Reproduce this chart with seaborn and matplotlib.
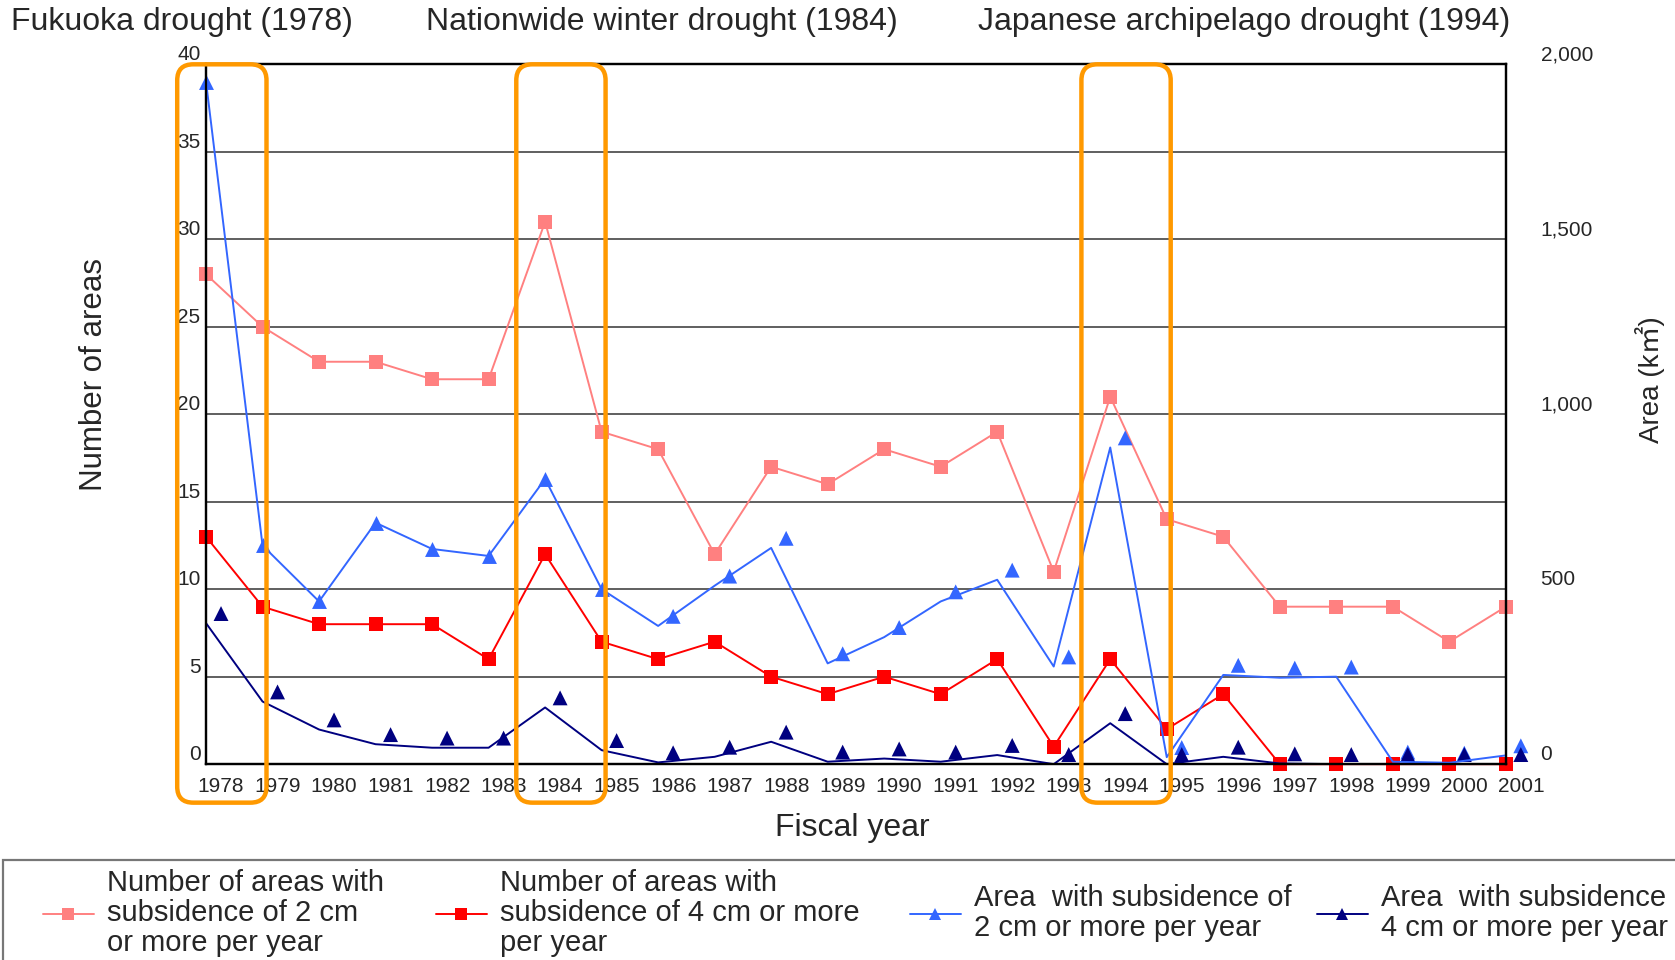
import matplotlib
matplotlib.use("Agg")
import matplotlib.pyplot as plt
from matplotlib import transforms
from matplotlib.lines import Line2D
from matplotlib.patches import FancyBboxPatch, Rectangle
import pandas as pd
import seaborn as sns

# fiscal years and the four series
years = list(range(1978, 2002))
count_2cm = [28, 25, 23, 23, 22, 22, 31, 19, 18, 12, 17, 16, 18, 17, 19, 11, 21, 14, 13, 9, 9, 9, 7, 9]
count_4cm = [13, 9, 8, 8, 8, 6, 12, 7, 6, 7, 5, 4, 5, 4, 6, 1, 6, 2, 4, 0, 0, 0, 0, 0]
area_2cm = [1950, 625, 465, 690, 615, 595, 815, 500, 395, 510, 618, 288, 363, 465, 527, 279, 905, 20, 255, 247, 250, 7, 4, 25]
area_4cm = [403, 179, 99, 57, 47, 47, 162, 40, 5, 21, 64, 7, 16, 7, 26, 0, 117, 0, 21, 2, 0, 0, 0, 0]
# from this year on the 2 cm area triangles sit off the line (as in the original)
blue_shift_from = 1986

drought_years = [1978, 1984, 1994]
drought_titles = ["Fukuoka drought (1978)", "Nationwide winter drought (1984)",
                  "Japanese archipelago drought (1994)"]

left_ticks = [0, 5, 10, 15, 20, 25, 30, 35, 40]
right_ticks = [0, 500, 1000, 1500, 2000]
right_labels = ["0", "500", "1,000", "1,500", "2,000"]

series_names = ["c2", "c4", "a2", "a4"]
legend_labels = [
    "Number of areas with\nsubsidence of 2 cm\nor more per year",
    "Number of areas with\nsubsidence of 4 cm or more\nper year",
    "Area  with subsidence of\n2 cm or more per year",
    "Area  with subsidence of\n4 cm or more per year",
]
pal = {"c2": "#FF8080", "c4": "#FF0000", "a2": "#3366FF", "a4": "#000080"}
orange = "#FF9900"

sns.set_theme(style="white")
plt.rcParams["font.family"] = ["Liberation Sans", "Noto Sans CJK JP"]

n = len(years)
counts = pd.DataFrame({"year": years * 2, "value": count_2cm + count_4cm,
                       "series": ["c2"] * n + ["c4"] * n})
areas = pd.DataFrame({"year": years * 2, "value": area_2cm + area_4cm,
                      "series": ["a2"] * n + ["a4"] * n})

fig = plt.figure(figsize=(16.75, 9.6), dpi=100)
ax = fig.add_axes([0.123, 0.204, 0.776, 0.729])
ax2 = ax.twinx()

sns.lineplot(data=counts, x="year", y="value", hue="series", palette=pal, marker="s",
             markersize=10.5, markeredgewidth=0, linewidth=1.4, ax=ax, legend=False, clip_on=False)
sns.lineplot(data=areas, x="year", y="value", hue="series", palette=pal,
             linewidth=1.4, ax=ax2, legend=False)

# triangles: on the line for the early blue points, shifted for the rest
on_line = areas[(areas.series == "a2") & (areas.year < blue_shift_from)]
shifted = areas[~((areas.series == "a2") & (areas.year < blue_shift_from))]
sns.scatterplot(data=on_line, x="year", y="value", color=pal["a2"], marker="^", s=115,
                linewidth=0, ax=ax2, legend=False, clip_on=False)
off = transforms.offset_copy(ax2.transData, fig=fig, x=15, y=9.6, units="dots")
sns.scatterplot(data=shifted, x="year", y="value", hue="series", palette=pal, marker="^", s=115,
                linewidth=0, ax=ax2, legend=False, clip_on=False, transform=off)

ax.set_xlim(1978, 2001)
ax.set_ylim(0, 40)
ax2.set_ylim(0, 2000)
ax.set_xticks(years)
ax.set_xticklabels([str(y) for y in years], fontsize=15)
ax.set_yticks(left_ticks)
ax.set_yticklabels([str(t) for t in left_ticks], fontsize=15)
ax2.set_yticks(right_ticks)
ax2.set_yticklabels(right_labels, fontsize=15)
ax.set_xlabel("")
ax.set_ylabel("")
ax2.set_ylabel("")

ax.grid(axis="y", color="#444444", linewidth=1.2)
ax.grid(axis="x", visible=False)
ax.tick_params(axis="x", direction="in", length=6, width=1, color="#333333", pad=9)
ax.tick_params(axis="y", length=0, pad=4)
ax2.tick_params(axis="y", length=0, pad=25)
for a in (ax, ax2):
    for sp in a.spines.values():
        sp.set_color("black")
        sp.set_linewidth(1.6)

# tick labels sit right of / above their ticks in the original
for lab in ax.get_xticklabels():
    lab.set_transform(lab.get_transform() + transforms.ScaledTranslation(0.15, 0, fig.dpi_scale_trans))
for lab in ax.get_yticklabels() + ax2.get_yticklabels():
    lab.set_transform(lab.get_transform() + transforms.ScaledTranslation(0, 0.115, fig.dpi_scale_trans))

# orange drought boxes
blend = transforms.blended_transform_factory(ax.transData, ax.transAxes)
for yr in drought_years:
    x0, y0 = blend.transform((yr - 0.51, -0.055))
    x1, y1 = blend.transform((yr + 1.07, 1.0))
    box = FancyBboxPatch((x0, y0), x1 - x0, y1 - y0, boxstyle="round,pad=0,rounding_size=16",
                         fill=False, ec=orange, lw=3.2, transform=transforms.IdentityTransform(),
                         zorder=10)
    fig.add_artist(box)

fig.text(0.0064, 0.977, drought_titles[0], fontsize=23, ha="left", va="center")
fig.text(0.395, 0.977, drought_titles[1], fontsize=23, ha="center", va="center")
fig.text(0.743, 0.977, drought_titles[2], fontsize=23, ha="center", va="center")

fig.text(0.509, 0.137, "Fiscal year", fontsize=23, ha="center", va="center")
fig.text(0.056, 0.61, "Number of areas", fontsize=22.5, rotation=90, ha="center", va="center")
fig.text(0.985, 0.605, "Area (k㎡)", fontsize=20, rotation=90, ha="center", va="center")

# legend strip at the bottom: one small legend per column
legend_x = [0.0255, 0.260, 0.543, 0.786]
for s, lab, lx in zip(series_names, legend_labels, legend_x):
    h = Line2D([], [], color=pal[s], lw=1.4, marker="s" if s[0] == "c" else "^",
               markersize=9, markeredgewidth=0)
    leg = fig.legend([h], [lab], loc="center left", bbox_to_anchor=(lx, 0.049),
                     frameon=False, fontsize=21, handlelength=1.75, handletextpad=0.45,
                     borderpad=0, borderaxespad=0)
    for t in leg.get_texts():
        t.set_linespacing(1.1)
fig.add_artist(Rectangle((0.0015, -0.05), 1.2, 0.154, transform=fig.transFigure,
                         fill=False, ec="#777777", lw=1.6))

fig.savefig("out.png", dpi=100)
